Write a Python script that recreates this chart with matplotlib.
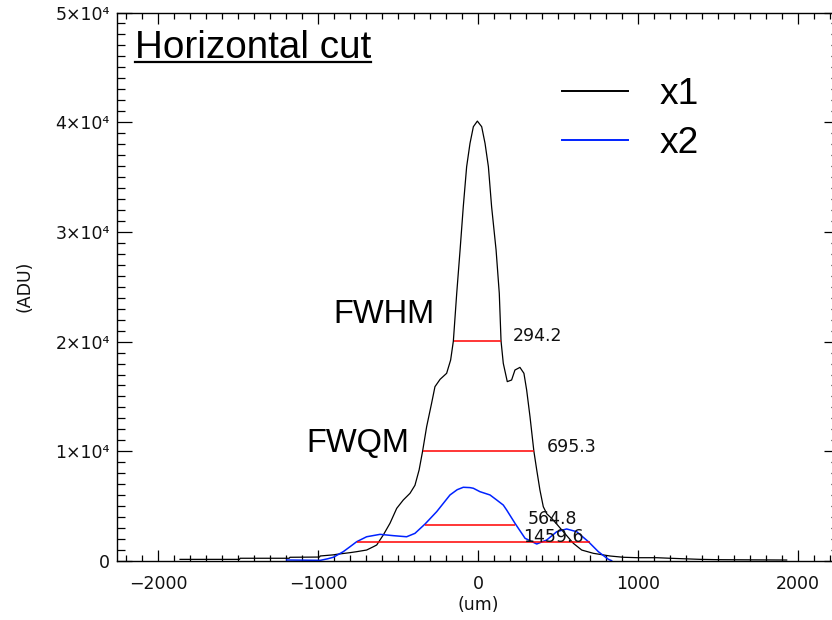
import matplotlib
matplotlib.use("Agg")
import matplotlib.pyplot as plt
from matplotlib.lines import Line2D
from matplotlib.ticker import MultipleLocator, FixedLocator, FixedFormatter

# ---------------- data ----------------
x1_um = [-1862, -1490, -1487, -1180, -1175, -990, -987, -904, -883, -800, -758, -696,
         -654, -633, -592, -550, -508, -467, -425, -394, -368, -346, -321, -290, -269,
         -237, -196, -171, -154, -133, -112, -92, -71, -50, -29, -4, 23, 44, 65, 85,
         113, 133, 144, 158, 183, 210, 231, 262, 287, 304, 325, 349, 367, 387, 408,
         430, 460, 496, 533, 596, 648, 721, 825, 908, 1000, 1117, 1200, 1387, 1500, 1929]
x1_adu = [150, 150, 250, 250, 340, 360, 456, 560, 610, 760, 850, 1000,
          1300, 1460, 2370, 3440, 4800, 5560, 6170, 6900, 8300, 10030, 12240, 14380, 15890,
          16560, 17110, 18320, 20050, 24400, 28350, 32300, 35940, 38070, 39590, 40100, 39590, 38070, 35940, 32300,
          28350, 24400, 20050, 18020, 16350, 16500, 17410, 17650, 17110, 15590, 13150, 10030, 8300, 6470, 4950,
          4300, 3890, 3300, 2670, 1610, 1000, 700, 456, 340, 300, 300, 250, 150, 120, 90]

x2_um = [-1196, -985, -940, -904, -842, -800, -758, -696, -612, -529, -446, -394, -331,
         -258, -175, -130, -92, -50, -29, 12, 75, 117, 158, 179, 231, 294, 367, 429,
         492, 554, 617, 690, 752, 815, 835]
x2_adu = [90, 60, 200, 340, 850, 1300, 1760, 2210, 2430, 2310, 2210, 2520, 3370,
          4500, 6020, 6500, 6720, 6690, 6630, 6320, 6020, 5560, 5100, 4650, 3440, 2070, 1550, 1910,
          2670, 2920, 2670, 1760, 850, 150, 30]

fw_level = [20050, 10025, 3315, 1700]
fw_left = [-150, -346, -331, -758]
fw_right = [144, 349, 234, 702]
fw_text = ["294.2", "695.3", "564.8", "1459.6"]

y_ticks = [0, 10000, 20000, 30000, 40000, 50000]
y_tick_labels = ["0", "1×10⁴", "2×10⁴", "3×10⁴", "4×10⁴", "5×10⁴"]
x_ticks = [-2000, -1000, 0, 1000, 2000]
x_tick_labels = ["−2000", "−1000", "0", "1000", "2000"]

# ---------------- figure ----------------
W, H = 832, 620
fig = plt.figure(figsize=(W / 100, H / 100), dpi=100)
L, R, B, T = 117, 839, 561, 12.5
ax = fig.add_axes([L / W, (H - B) / H, (R - L) / W, (B - T) / H])

ax.plot(x1_um, x1_adu, color="black", lw=0.9, label="x1")
ax.plot(x2_um, x2_adu, color="#0022ff", lw=1.1, label="x2")
ax.hlines(fw_level, fw_left, fw_right, colors="red", lw=1.1)

small = dict(family="DejaVu Sans", fontsize=12.5, color="#111111")
lab_x = [219, 429, 308, 283]
lab_y = [20050, 9960, 3370, 1760]
for t, lx, ly in zip(fw_text, lab_x, lab_y):
    ax.text(lx, ly, t, ha="left", va="baseline", **small)

big = dict(family="Liberation Sans", fontsize=23.5, color="black")
ax.text(-906, 21670, "FWHM", ha="left", va="baseline", **big)
ax.text(-1075, 9960, "FWQM", ha="left", va="baseline", **big)

ax.set_xlim(-2256, 2256)
ax.set_ylim(0, 50000)
ax.xaxis.set_major_locator(FixedLocator(x_ticks))
ax.xaxis.set_major_formatter(FixedFormatter(x_tick_labels))
ax.xaxis.set_minor_locator(MultipleLocator(100))
ax.yaxis.set_major_locator(FixedLocator(y_ticks))
ax.yaxis.set_major_formatter(FixedFormatter(y_tick_labels))
ax.yaxis.set_minor_locator(MultipleLocator(1000))

ax.tick_params(which="both", direction="in", top=True, right=True, width=0.9, color="black")
ax.tick_params(axis="x", which="major", length=8, pad=10)
ax.tick_params(axis="x", which="minor", length=4)
ax.tick_params(axis="y", which="major", length=11, pad=5)
ax.tick_params(axis="y", which="minor", length=5.5)
for lbl in ax.get_xticklabels() + ax.get_yticklabels():
    lbl.set_fontfamily("DejaVu Sans")
    lbl.set_fontsize(12.5)
    lbl.set_color("#111111")
for s in ax.spines.values():
    s.set_linewidth(1.0)

ax.set_xlabel("(um)", family="DejaVu Sans", fontsize=12.5, color="#111111", labelpad=2)
ax.set_ylabel("(ADU)", family="DejaVu Sans", fontsize=12.5, color="#111111", labelpad=16)

leg = ax.legend(loc="upper left", bbox_to_anchor=(562 / W, 1 - 77 / H),
                bbox_transform=fig.transFigure, frameon=False,
                prop=dict(family="Liberation Sans", size=26.7),
                handlelength=1.78, handletextpad=0.85, labelspacing=0.37,
                borderpad=0, borderaxespad=0)
for h in leg.get_lines():
    h.set_linewidth(1.4)

title = fig.text(135 / W, 1 - 58 / H, "Horizontal cut", family="Liberation Sans",
                 fontsize=27.8, ha="left", va="baseline")
fig.canvas.draw()
bb = title.get_window_extent()
fig.add_artist(Line2D([bb.x0 / W, bb.x1 / W], [(H - 61.5) / H, (H - 61.5) / H],
                      color="black", lw=1.6, transform=fig.transFigure))

fig.savefig("out.png", dpi=100)
